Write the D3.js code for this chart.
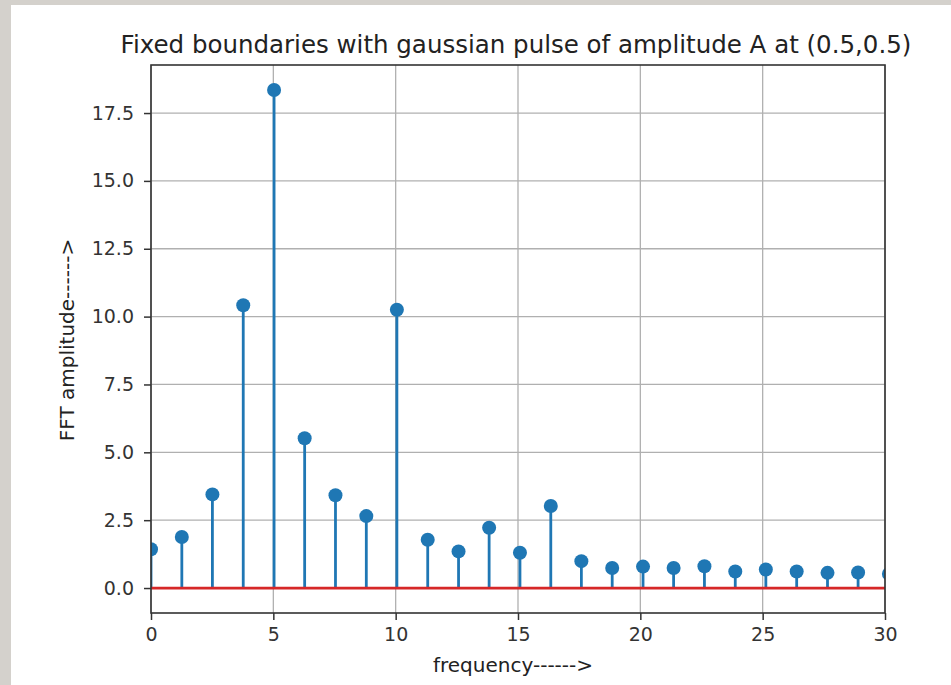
<!DOCTYPE html>
<html><head><meta charset="utf-8">
<script src="https://cdn.jsdelivr.net/npm/d3@7"></script>
<style>body{margin:0;background:#fff;} svg{display:block;font-family:"DejaVu Sans",sans-serif;}</style>
</head><body>
<svg id="c" width="951" height="685"></svg>
<script>
const frequencies = [0, 1.26, 2.51, 3.77, 5.03, 6.28, 7.54, 8.80, 10.05, 11.31, 12.57, 13.82, 15.08, 16.34, 17.59, 18.85, 20.11, 21.36, 22.62, 23.88, 25.13, 26.39, 27.65, 28.90, 30.16];
const amplitudes = [1.43, 1.88, 3.45, 10.42, 18.35, 5.52, 3.42, 2.65, 10.25, 1.78, 1.35, 2.22, 1.30, 3.02, 0.99, 0.74, 0.79, 0.74, 0.80, 0.61, 0.68, 0.61, 0.56, 0.57, 0.52];
const xTicks = [0, 5, 10, 15, 20, 25, 30];
const yTicks = [0.0, 2.5, 5.0, 7.5, 10.0, 12.5, 15.0, 17.5];
const title = "Fixed boundaries with gaussian pulse of amplitude A at (0.5,0.5)";
const xLabel = "frequency------>";
const yLabel = "FFT amplitude------>";

const svg = d3.select("#c");
// screenshot border
svg.append("rect").attr("x",0).attr("y",0).attr("width",951).attr("height",5).attr("fill","#d4d1cc");
svg.append("rect").attr("x",0).attr("y",0).attr("width",11).attr("height",685).attr("fill","#d4d1cc");

const L=151, R=885, T=65, B=613;
const x = d3.scaleLinear().domain([0,30]).range([L,R]);
const y = d3.scaleLinear().domain([-0.92,19.27]).range([B,T]);

svg.append("defs").append("clipPath").attr("id","clip")
  .append("rect").attr("x",L).attr("y",T).attr("width",R-L).attr("height",B-T);

// grid
const g = svg.append("g");
g.selectAll(".gx").data(xTicks).join("line")
  .attr("x1",d=>x(d)).attr("x2",d=>x(d)).attr("y1",T).attr("y2",B)
  .attr("stroke","#b0b0b0").attr("stroke-width",1.3);
g.selectAll(".gy").data(yTicks).join("line")
  .attr("x1",L).attr("x2",R).attr("y1",d=>y(d)).attr("y2",d=>y(d))
  .attr("stroke","#b0b0b0").attr("stroke-width",1.3);

const plot = svg.append("g").attr("clip-path","url(#clip)");
plot.selectAll(".stem").data(frequencies).join("line")
  .attr("x1",d=>x(d)).attr("x2",d=>x(d))
  .attr("y1",y(0)).attr("y2",(d,i)=>y(amplitudes[i]))
  .attr("stroke","#1f77b4").attr("stroke-width",2.8);
plot.append("line").attr("x1",L).attr("x2",R).attr("y1",y(0)).attr("y2",y(0))
  .attr("stroke","#d62728").attr("stroke-width",2.8);
plot.selectAll(".mk").data(frequencies).join("circle")
  .attr("cx",d=>x(d)).attr("cy",(d,i)=>y(amplitudes[i])).attr("r",7)
  .attr("fill","#1f77b4");

// axes
const xa = svg.append("g").attr("transform",`translate(0,${B})`)
  .call(d3.axisBottom(x).tickValues(xTicks).tickFormat(d3.format("d")).tickSize(7).tickPadding(8));
const ya = svg.append("g").attr("transform",`translate(${L},0)`)
  .call(d3.axisLeft(y).tickValues(yTicks).tickFormat(d3.format(".1f")).tickSize(7).tickPadding(10));
[xa,ya].forEach(a=>{
  a.select(".domain").remove();
  a.selectAll(".tick line").attr("stroke","#333").attr("stroke-width",1.5);
  a.selectAll(".tick text").attr("fill","#333").style("font-size","19px").style("font-family","DejaVu Sans");
});

// frame
svg.append("rect").attr("x",L).attr("y",T).attr("width",R-L).attr("height",B-T)
  .attr("fill","none").attr("stroke","#333").attr("stroke-width",1.6);

svg.append("text").attr("x",(119+913)/2).attr("y",53).attr("text-anchor","middle")
  .attr("fill","#222").style("font-size","24.5px").text(title);
svg.append("text").attr("x",513).attr("y",672).attr("text-anchor","middle")
  .attr("fill","#222").style("font-size","20px").text(xLabel);
svg.append("text").attr("transform","translate(74,340) rotate(-90)").attr("text-anchor","middle")
  .attr("fill","#222").style("font-size","20px").text(yLabel);
</script>
</body></html>
